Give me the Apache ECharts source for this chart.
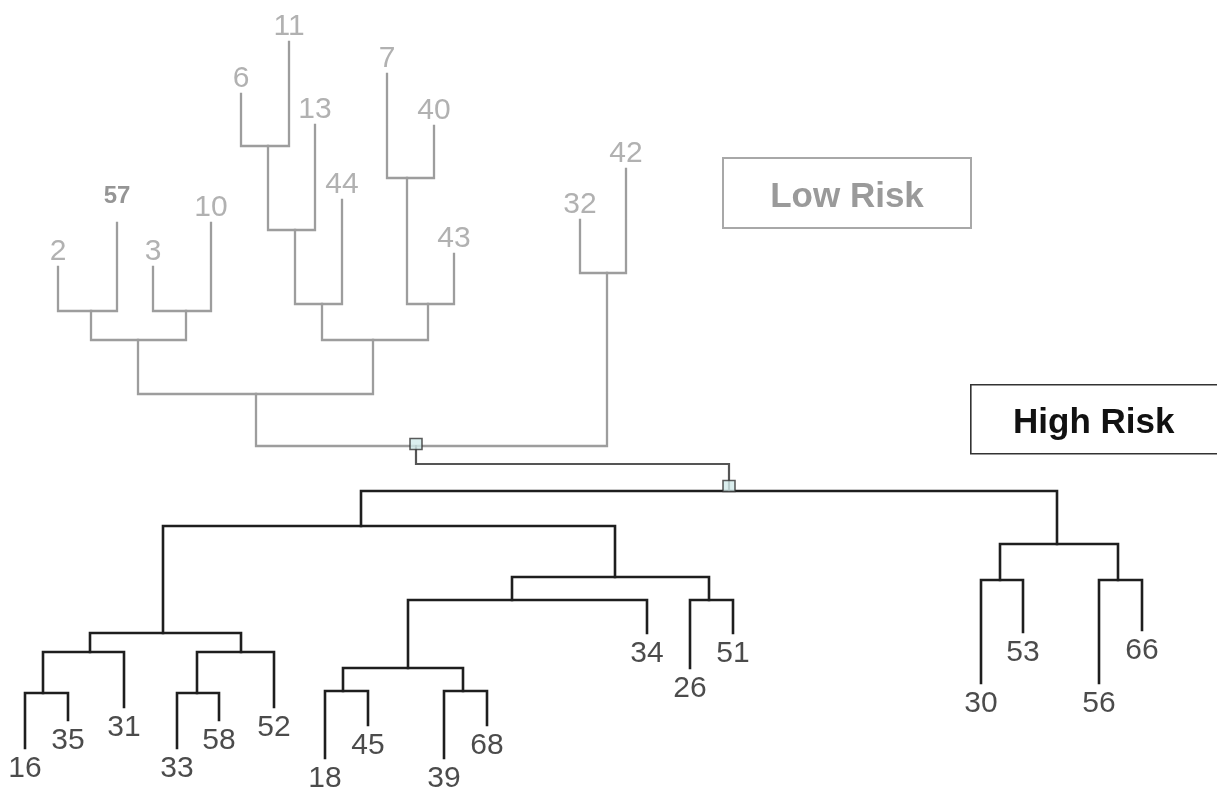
<!DOCTYPE html>
<html>
<head>
<meta charset="utf-8">
<script src="https://cdn.jsdelivr.net/npm/echarts@6/dist/echarts.min.js"></script>
<style>
  html, body { margin: 0; padding: 0; background: #ffffff; }
  #chart { width: 1217px; height: 788px; }
</style>
</head>
<body>
<div id="chart"></div>
<script>
// ---- Leaves: name, position along the leaf axis, tip height, risk group ----
const leafNames = ['2', '57', '3', '10', '6', '11', '13', '44', '7', '40', '43', '32', '42',
                   '16', '35', '31', '33', '58', '52', '18', '45', '39', '68', '34', '26', '51',
                   '30', '53', '56', '66'];
const leafPos   = [58, 117, 153, 211, 241, 289, 315, 342, 387, 434, 454, 580, 626,
                   25, 68, 124, 177, 219, 274, 325, 368, 444, 487, 647, 690, 733,
                   981, 1023, 1099, 1142];
const leafTip   = [267, 223, 267, 223, 94, 42, 125, 200, 74, 126, 254, 220, 169,
                   748, 720, 707, 748, 720, 707, 758, 725, 758, 725, 633, 668, 633,
                   683, 632, 683, 630];
const leafGroup = ['low', 'low', 'low', 'low', 'low', 'low', 'low', 'low', 'low', 'low', 'low', 'low', 'low',
                   'high', 'high', 'high', 'high', 'high', 'high', 'high', 'high', 'high', 'high', 'high', 'high', 'high',
                   'high', 'high', 'high', 'high'];

// ---- Merges: id, two children, merge height, junction position, group ----
const mergeIds    = ['m1', 'm2', 'm3', 'm4', 'm5', 'm6', 'm7', 'm8', 'm9', 'm10', 'm11', 'lowRoot',
                     'b1', 'b2', 'b3', 'b4', 'b5', 'b6', 'b7', 'b8', 'b9', 'b10', 'b11', 'b12',
                     'b13', 'b14', 'b15', 'highRoot', 'root'];
const mergeA      = ['2', '3', 'm1', '6', 'm4', 'm5', '7', 'm7', 'm6', 'm3', '32', 'm10',
                     '16', 'b1', '33', 'b3', 'b2', '18', '39', 'b6', 'b8', '26', 'b9', 'b5',
                     '30', '56', 'b13', 'b12', 'lowRoot'];
const mergeB      = ['57', '10', 'm2', '11', '13', '44', '40', '43', 'm8', 'm9', '42', 'm11',
                     '35', '31', '58', '52', 'b4', '45', '68', 'b7', '34', '51', 'b10', 'b11',
                     '53', '66', 'b14', 'b15', 'highRoot'];
const mergeHeight = [311, 311, 340, 146, 230, 304, 178, 304, 340, 394, 273, 446,
                     693, 652, 693, 652, 633, 691, 691, 668, 600, 600, 577, 526,
                     580, 580, 544, 491, 464];
const mergeJoin   = [91, 186, 138, 268, 295, 322, 407, 428, 373, 256, 607, 416,
                     43, 90, 197, 241, 163, 343, 463, 408, 512, 709, 615, 361,
                     1000, 1118, 1057, 729, null];
const mergeGroup  = ['low', 'low', 'low', 'low', 'low', 'low', 'low', 'low', 'low', 'low', 'low', 'low',
                     'high', 'high', 'high', 'high', 'high', 'high', 'high', 'high', 'high', 'high', 'high', 'high',
                     'high', 'high', 'high', 'high', 'link'];

// Cluster annotations
const clusterLabels = ['Low Risk', 'High Risk'];

// ---------------------------------------------------------------
function nodeOf(id) {
  const li = leafNames.indexOf(id);
  if (li >= 0) return { x: leafPos[li], y: leafTip[li] };
  const mi = mergeIds.indexOf(id);
  return { x: mergeJoin[mi], y: mergeHeight[mi] };
}

const brackets = { low: [], high: [], link: [] };
mergeIds.forEach(function (id, i) {
  const a = nodeOf(mergeA[i]);
  const b = nodeOf(mergeB[i]);
  const h = mergeHeight[i];
  brackets[mergeGroup[i]].push({ coords: [[a.x, a.y], [a.x, h], [b.x, h], [b.x, b.y]] });
});

const GREY = '#9d9d9d';
const DARK = '#1e1e1e';
const FONT = '"Liberation Sans", Arial, Helvetica, sans-serif';

function leafData(group) {
  const out = [];
  leafNames.forEach(function (n, i) {
    if (leafGroup[i] !== group) return;
    const item = { name: n, value: [leafPos[i], leafTip[i]] };
    if (n === '57') {
      item.label = { fontSize: 24, fontWeight: 'bold', color: '#7a7a7a', distance: 15 };
    }
    out.push(item);
  });
  return out;
}

const lowRootNode = nodeOf('lowRoot');
const highRootNode = nodeOf('highRoot');

const chart = echarts.init(document.getElementById('chart'), null, { renderer: 'canvas' });
chart.setOption({
  backgroundColor: '#ffffff',
  animation: false,
  grid: { left: 0, right: 0, top: 0, bottom: 0, containLabel: false },
  xAxis: { type: 'value', min: 0, max: 1217, show: false },
  yAxis: { type: 'value', min: 0, max: 788, inverse: true, show: false },
  series: [
    {
      type: 'lines', coordinateSystem: 'cartesian2d', polyline: true, silent: true,
      lineStyle: { color: GREY, width: 2.3, opacity: 1, join: 'miter', cap: 'square' },
      data: brackets.low, z: 2
    },
    {
      type: 'lines', coordinateSystem: 'cartesian2d', polyline: true, silent: true,
      lineStyle: { color: DARK, width: 2.6, opacity: 1, join: 'miter', cap: 'square' },
      data: brackets.high, z: 2
    },
    {
      type: 'lines', coordinateSystem: 'cartesian2d', polyline: true, silent: true,
      lineStyle: { color: '#555555', width: 2.2, opacity: 1, join: 'miter', cap: 'square' },
      data: brackets.link, z: 2
    },
    {
      type: 'scatter', symbolSize: 0, silent: true,
      label: { show: true, position: 'top', distance: 0, formatter: '{b}',
               fontFamily: FONT, fontSize: 30, color: GREY },
      data: leafData('low'), z: 3
    },
    {
      type: 'scatter', symbolSize: 0, silent: true,
      label: { show: true, position: 'bottom', distance: 6, formatter: '{b}',
               fontFamily: FONT, fontSize: 30, color: DARK },
      data: leafData('high'), z: 3
    },
    {
      type: 'scatter', symbol: 'rect', symbolSize: [12, 11], silent: true,
      itemStyle: { color: '#d2ebeb', borderColor: '#333333', borderWidth: 1.5 },
      data: [
        { value: [lowRootNode.x, lowRootNode.y], symbolOffset: [0, -2] },
        { value: [highRootNode.x, highRootNode.y], symbolOffset: [0, -5] }
      ],
      z: 5
    }
  ],
  graphic: [
    {
      type: 'group', left: 722, top: 157,
      children: [
        { type: 'rect', shape: { x: 0, y: 0, width: 248, height: 70 },
          style: { fill: '#ffffff', stroke: '#a8a8a8', lineWidth: 2 } },
        { type: 'text', x: 124, y: 39,
          style: { text: clusterLabels[0], fill: '#9a9a9a', font: 'bold 35px ' + FONT,
                   textAlign: 'center', textVerticalAlign: 'middle' } }
      ]
    },
    {
      type: 'group', left: 970, top: 384,
      children: [
        { type: 'rect', shape: { x: 0, y: 0, width: 260, height: 69 },
          style: { fill: '#ffffff', stroke: '#333333', lineWidth: 1.6 } },
        { type: 'text', x: 123, y: 39,
          style: { text: clusterLabels[1], fill: '#111111', font: 'bold 35px ' + FONT,
                   textAlign: 'center', textVerticalAlign: 'middle' } }
      ]
    }
  ]
});
</script>
</body>
</html>
